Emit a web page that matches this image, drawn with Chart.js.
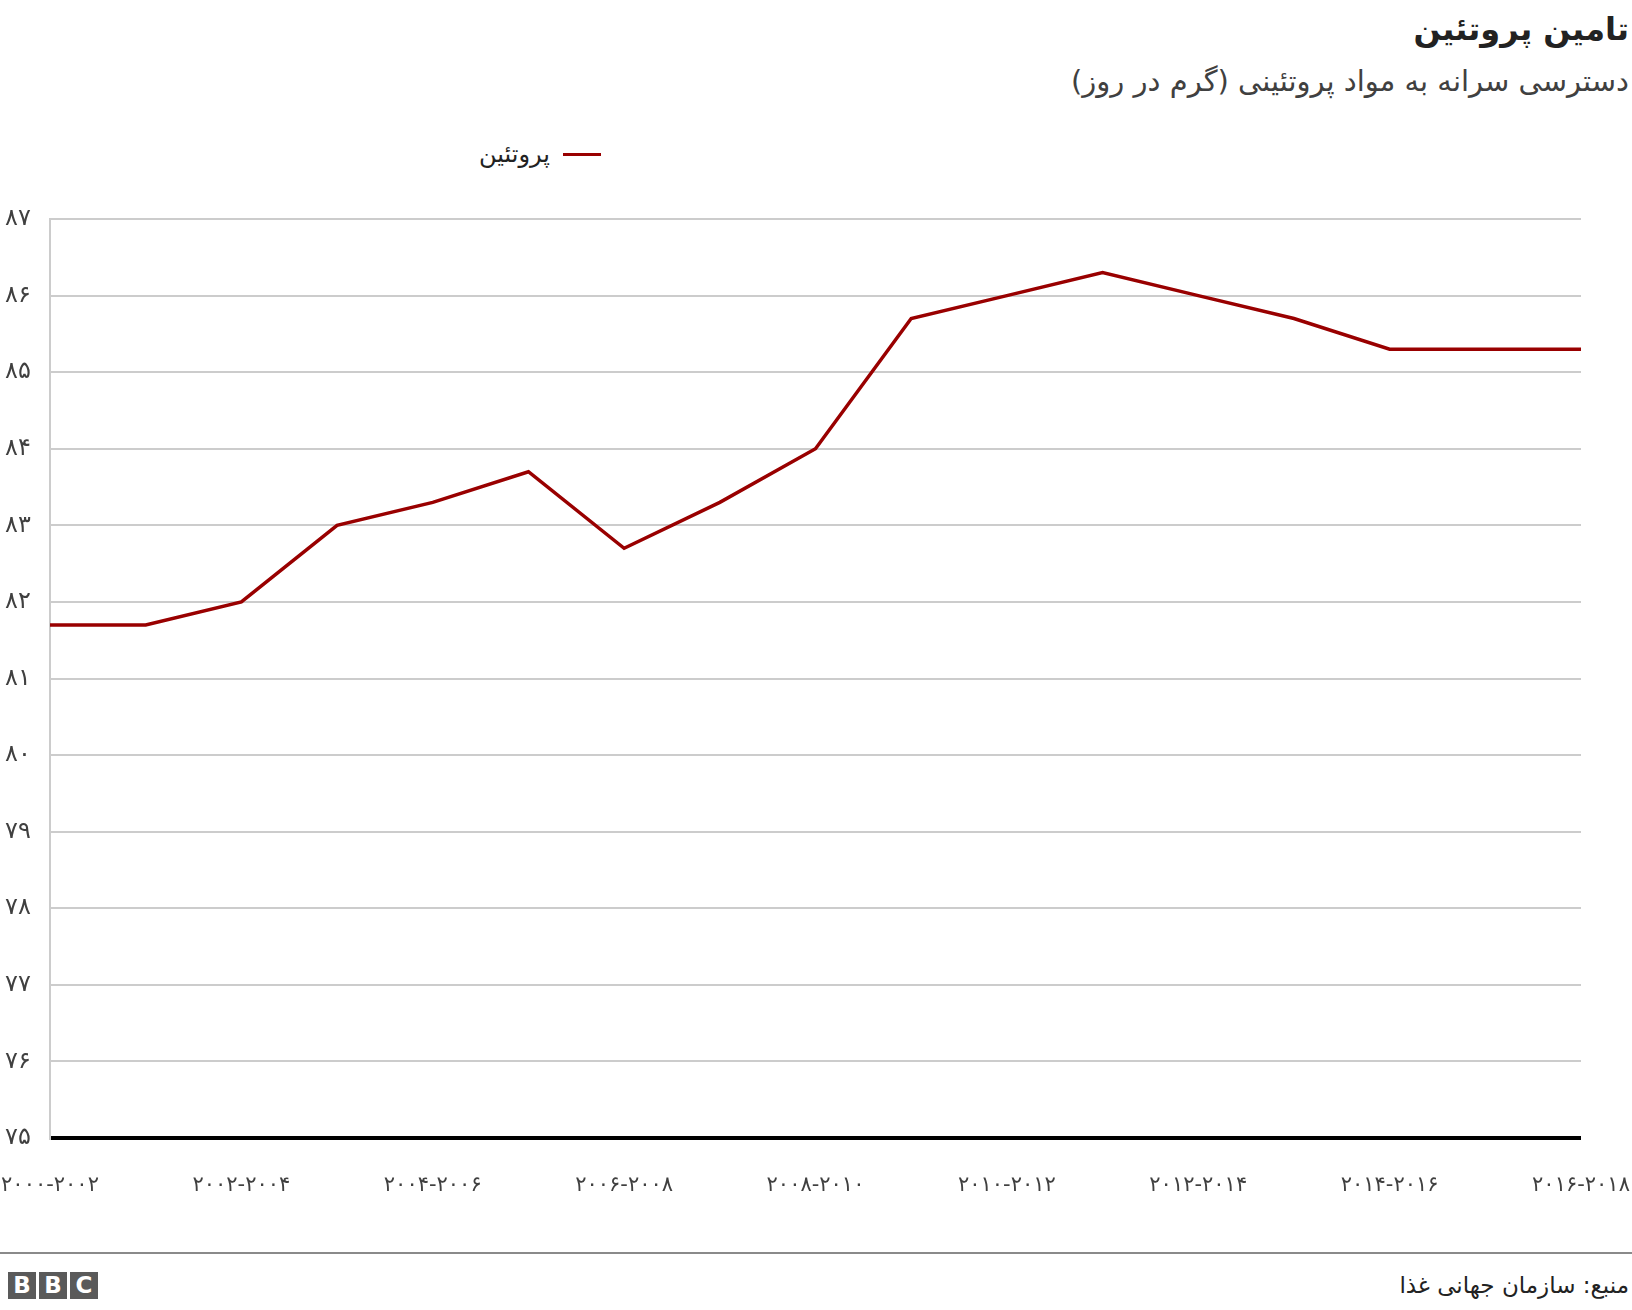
<!DOCTYPE html>
<html lang="fa">
<head>
    <meta charset="UTF-8">
    <title>تامین پروتئین</title>
    <script src="https://cdn.jsdelivr.net/npm/chart.js"></script>
    <style>
        body { margin: 0; background: #fff; font-family: "DejaVu Sans", sans-serif; }
        .page { position: relative; width: 1632px; height: 1310px; overflow: hidden; }
        .title { position: absolute; right: 3px; top: 10px; font-size: 32px; font-weight: bold; color: #222; direction: rtl; }
        .subtitle { position: absolute; right: 3px; top: 64px; font-size: 29px; color: #404040; direction: rtl; }
        .legend { position: absolute; left: 479px; top: 139px; height: 30px; font-size: 24px; color: #222; direction: rtl; display: flex; align-items: center; }
        .legend .swatch { display: inline-block; width: 38px; height: 3px; background: #990000; margin-left: 13px; }
        #wrap { position: absolute; left: 0; top: 190px; width: 1632px; height: 1018px; }
        .footer-line { position: absolute; left: 0; top: 1252px; width: 1632px; height: 2px; background: #8a8a8a; }
        .source { position: absolute; right: 3px; top: 1272px; font-size: 23px; color: #222; direction: rtl; }
        .bbc { position: absolute; left: 8px; top: 1272px; display: flex; gap: 3px; }
        .bbc span { width: 28px; height: 27px; background: #5a5a5a; color: #fff; font: bold 23px "DejaVu Sans", sans-serif; text-align: center; line-height: 27px; }
    </style>
</head>
<body>
<div class="page">
    <div class="title">تامین پروتئین</div>
    <div class="subtitle">دسترسی سرانه به مواد پروتئینی (گرم در روز)</div>
    <div class="legend"><span class="swatch"></span><span>پروتئین</span></div>
    <div id="wrap"><canvas id="chart"></canvas></div>
    <div class="footer-line"></div>
    <div class="bbc"><span>B</span><span>B</span><span>C</span></div>
    <div class="source">منبع: سازمان جهانی غذا</div>
</div>

<script>
    // دوره‌ها (محور افقی)
    const periods = [
        '۲۰۰۰-۲۰۰۲', '۲۰۰۱-۲۰۰۳', '۲۰۰۲-۲۰۰۴', '۲۰۰۳-۲۰۰۵', '۲۰۰۴-۲۰۰۶',
        '۲۰۰۵-۲۰۰۷', '۲۰۰۶-۲۰۰۸', '۲۰۰۷-۲۰۰۹', '۲۰۰۸-۲۰۱۰', '۲۰۰۹-۲۰۱۱',
        '۲۰۱۰-۲۰۱۲', '۲۰۱۱-۲۰۱۳', '۲۰۱۲-۲۰۱۴', '۲۰۱۳-۲۰۱۵', '۲۰۱۴-۲۰۱۶',
        '۲۰۱۵-۲۰۱۷', '۲۰۱۶-۲۰۱۸'
    ];
    // گرم پروتئین در روز برای هر نفر
    const protein = [81.7, 81.7, 82.0, 83.0, 83.3, 83.7, 82.7, 83.3, 84.0, 85.7, 86.0, 86.3, 86.0, 85.7, 85.3, 85.3, 85.3];
    const yMin = 75;
    const yMax = 87;

    const faDigits = '۰۱۲۳۴۵۶۷۸۹';
    function toFa(n) {
        return String(n).replace(/\d/g, d => faDigits[d]);
    }

    const ctx = document.getElementById('chart').getContext('2d');
    new Chart(ctx, {
        type: 'line',
        data: {
            labels: periods,
            datasets: [{
                label: 'پروتئین',
                data: protein,
                borderColor: '#990000',
                borderWidth: 3.5,
                pointRadius: 0,
                tension: 0,
                fill: false
            }]
        },
        options: {
            responsive: true,
            maintainAspectRatio: false,
            animation: false,
            layout: { padding: { left: 5, right: 51, top: 29, bottom: 0 } },
            plugins: {
                legend: { display: false },
                tooltip: { enabled: false }
            },
            scales: {
                x: {
                    offset: false,
                    grid: { display: false, drawTicks: false },
                    border: { display: false },
                    ticks: {
                        autoSkip: false,
                        maxRotation: 0,
                        padding: 35,
                        color: '#404040',
                        font: { family: 'DejaVu Sans', size: 21 },
                        callback: function(value, index) {
                            return index % 2 === 0 ? periods[index] : '';
                        }
                    },
                    afterFit: function(axis) {
                        axis.height = 70;
                        // labels may hang outside the plot, don't pad for them
                        axis.paddingLeft = 0;
                        axis.paddingRight = 0;
                    }
                },
                y: {
                    min: yMin,
                    max: yMax,
                    grid: {
                        drawTicks: false,
                        color: c => c.tick.value === yMin ? '#000000' : '#cccccc',
                        lineWidth: c => c.tick.value === yMin ? 4 : 2
                    },
                    border: { display: true, color: '#cccccc', width: 2 },
                    ticks: {
                        stepSize: 1,
                        crossAlign: 'far',
                        padding: 0,
                        color: '#404040',
                        font: { family: 'DejaVu Sans', size: 24 },
                        callback: v => toFa(v)
                    },
                    afterFit: function(axis) {
                        axis.width = 45;
                        axis.paddingTop = 0;
                        axis.paddingBottom = 0;
                    }
                }
            }
        }
    });
</script>
</body>
</html>
